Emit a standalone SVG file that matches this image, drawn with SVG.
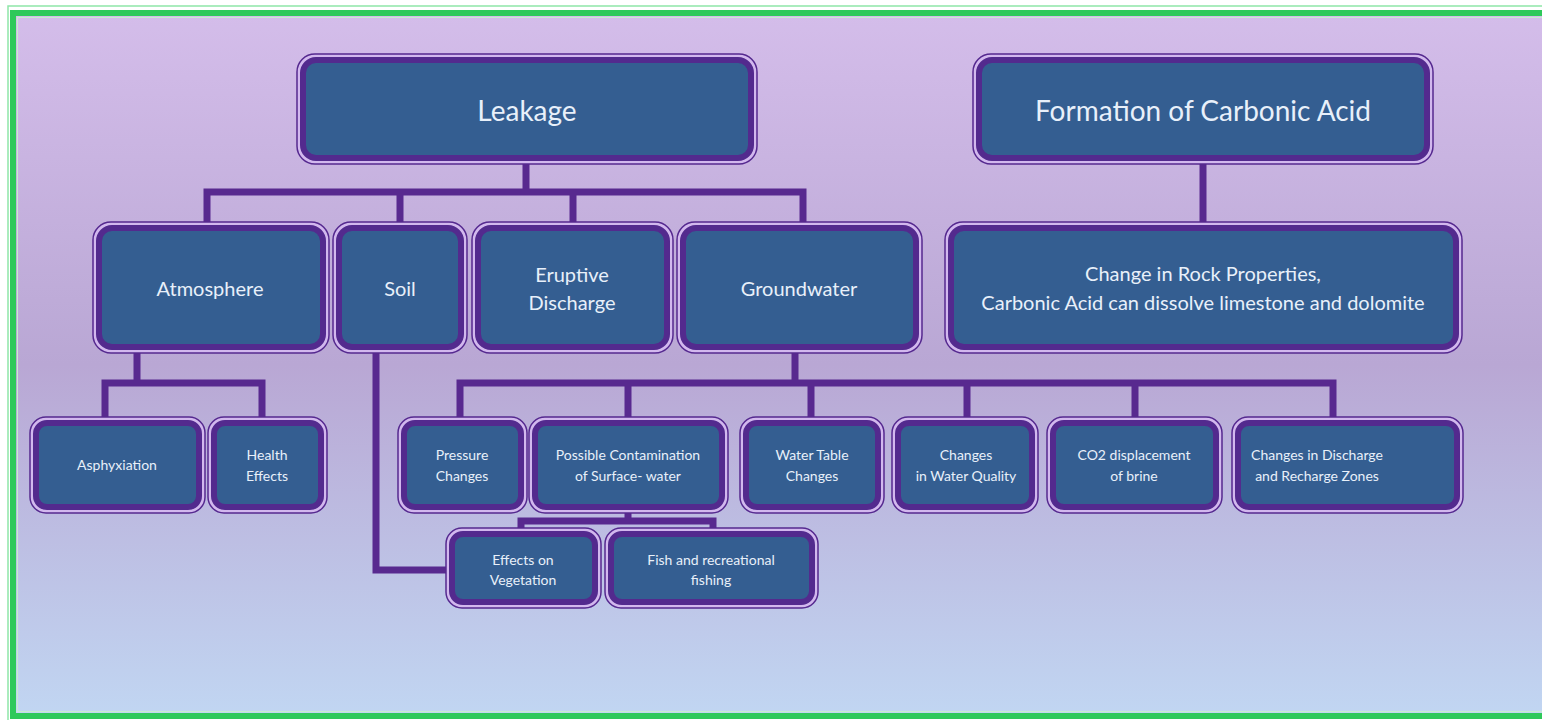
<svg xmlns="http://www.w3.org/2000/svg" width="1542" height="720" viewBox="0 0 1542 720">
<defs>
<linearGradient id="bg" x1="0" y1="0" x2="0" y2="1">
<stop offset="0" stop-color="#d4bdea"/>
<stop offset="0.5" stop-color="#b9a7d4"/>
<stop offset="1" stop-color="#c1d6f2"/>
</linearGradient>
<style>
.o{fill:#d2b8ee;stroke:#55298f;stroke-width:1.5}
.i{fill:#345e91;stroke:#532a8e;stroke-width:6}
.t{font-family:Lato,"Open Sans",sans-serif;fill:#e8f0fa;text-anchor:middle;dominant-baseline:central}
.t1{font-size:28px}
.t2{font-size:20px}
.t3{font-size:14px}
.c{fill:none;stroke:#58298f;stroke-width:7;stroke-linejoin:miter}
</style>
</defs>
<rect width="1542" height="720" fill="#ffffff"/>
<rect x="13" y="13" width="1560" height="703" fill="url(#bg)"/>
<rect x="8" y="6" width="1570" height="720" fill="none" stroke="#8fe6a8" stroke-width="1.5"/>
<rect x="13" y="13" width="1560" height="703" fill="none" stroke="#2ec95a" stroke-width="6"/>
<rect x="17.5" y="17.5" width="1560" height="694" fill="none" stroke="#c8eccf" stroke-width="1"/>

<g id="connectors">
<path class="c" d="M526 160 V192 M207 226 V192 H803 V226 M400 192 V226 M573 192 V226"/>
<path class="c" d="M1203 160 V226"/>
<path class="c" d="M137 349 V383 M105 420 V383 H262 V420"/>
<path class="c" d="M795 349 V383 M460 420 V383 H1333 V420 M628 383 V420 M811 383 V420 M967 383 V420 M1135 383 V420"/>
<path class="c" d="M628 509 V521 M521 532 V521 H713 V532"/>
<path class="c" d="M376 349 V570 H452"/>
</g>

<g id="leakage"><rect class="o" x="297" y="54" width="460" height="110" rx="18"/><rect class="i" x="303" y="60" width="448" height="98" rx="13"/><text class="t t1" x="527" y="110">Leakage</text></g>
<g id="formation"><rect class="o" x="973" y="54" width="460" height="110" rx="18"/><rect class="i" x="979" y="60" width="448" height="98" rx="13"/><text class="t t1" x="1203" y="110">Formation of Carbonic Acid</text></g>

<g id="atmosphere"><rect class="o" x="93" y="222" width="236" height="131" rx="18"/><rect class="i" x="99" y="228" width="224" height="119" rx="13"/><text class="t t2" x="210" y="288">Atmosphere</text></g>
<g id="soil"><rect class="o" x="333" y="222" width="134" height="131" rx="18"/><rect class="i" x="339" y="228" width="122" height="119" rx="13"/><text class="t t2" x="400" y="288">Soil</text></g>
<g id="eruptive"><rect class="o" x="472" y="222" width="201" height="131" rx="18"/><rect class="i" x="478" y="228" width="189" height="119" rx="13"/><text class="t t2" x="572" y="274">Eruptive</text><text class="t t2" x="572" y="302">Discharge</text></g>
<g id="groundwater"><rect class="o" x="677" y="222" width="245" height="131" rx="18"/><rect class="i" x="683" y="228" width="233" height="119" rx="13"/><text class="t t2" x="799" y="288">Groundwater</text></g>
<g id="rock"><rect class="o" x="945" y="222" width="517" height="131" rx="18"/><rect class="i" x="951" y="228" width="505" height="119" rx="13"/><text class="t t2" x="1203" y="273">Change in Rock Properties,</text><text class="t t2" x="1203" y="302">Carbonic Acid can dissolve limestone and dolomite</text></g>

<g id="asphyxiation"><rect class="o" x="30" y="417" width="175" height="96" rx="16"/><rect class="i" x="36" y="423" width="163" height="84" rx="11"/><text class="t t3" x="117" y="464">Asphyxiation</text></g>
<g id="health"><rect class="o" x="208" y="417" width="119" height="96" rx="16"/><rect class="i" x="214" y="423" width="107" height="84" rx="11"/><text class="t t3" x="267" y="454">Health</text><text class="t t3" x="267" y="475">Effects</text></g>
<g id="pressure"><rect class="o" x="398" y="417" width="129" height="96" rx="16"/><rect class="i" x="404" y="423" width="117" height="84" rx="11"/><text class="t t3" x="462" y="454">Pressure</text><text class="t t3" x="462" y="475">Changes</text></g>
<g id="contamination"><rect class="o" x="529" y="417" width="199" height="96" rx="16"/><rect class="i" x="535" y="423" width="187" height="84" rx="11"/><text class="t t3" x="628" y="454">Possible Contamination</text><text class="t t3" x="628" y="475">of Surface- water</text></g>
<g id="watertable"><rect class="o" x="740" y="417" width="144" height="96" rx="16"/><rect class="i" x="746" y="423" width="132" height="84" rx="11"/><text class="t t3" x="812" y="454">Water Table</text><text class="t t3" x="812" y="475">Changes</text></g>
<g id="quality"><rect class="o" x="892" y="417" width="146" height="96" rx="16"/><rect class="i" x="898" y="423" width="134" height="84" rx="11"/><text class="t t3" x="966" y="454">Changes</text><text class="t t3" x="966" y="475">in Water Quality</text></g>
<g id="co2"><rect class="o" x="1047" y="417" width="175" height="96" rx="16"/><rect class="i" x="1053" y="423" width="163" height="84" rx="11"/><text class="t t3" x="1134" y="454">CO2 displacement</text><text class="t t3" x="1134" y="475">of brine</text></g>
<g id="discharge"><rect class="o" x="1232" y="417" width="231" height="96" rx="16"/><rect class="i" x="1238" y="423" width="219" height="84" rx="11"/><text class="t t3" x="1317" y="454">Changes in Discharge</text><text class="t t3" x="1317" y="475">and Recharge Zones</text></g>

<g id="vegetation"><rect class="o" x="446" y="528" width="155" height="80" rx="16"/><rect class="i" x="452" y="534" width="143" height="68" rx="11"/><text class="t t3" x="523" y="559">Effects on</text><text class="t t3" x="523" y="579">Vegetation</text></g>
<g id="fish"><rect class="o" x="605" y="528" width="213" height="80" rx="16"/><rect class="i" x="611" y="534" width="201" height="68" rx="11"/><text class="t t3" x="711" y="559">Fish and recreational</text><text class="t t3" x="711" y="579">fishing</text></g>
</svg>
